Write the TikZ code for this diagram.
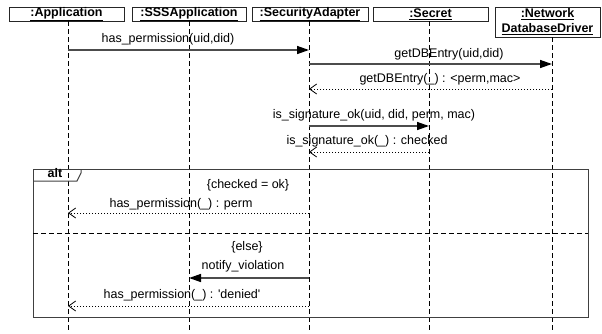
\documentclass[tikz,border=0pt]{standalone}
\usepackage{fontspec}
\setmainfont{Liberation Sans}
\usetikzlibrary{arrows.meta,positioning}

\tikzset{
	obj/.style={draw=black!85, line width=0.9pt, minimum height=14pt, inner sep=0pt, align=center, font=\bfseries\fontsize{12.5}{15}\selectfont},
	life/.style={line width=0.8pt, dash pattern=on 5pt off 3pt},
	msg/.style={draw=black!70, line width=1.4pt, -{Triangle[length=12pt,width=8pt,color=black]}},
	ret/.style={line width=0.8pt, dash pattern=on 1.5pt off 1.5pt, -{Straight Barb[length=7pt,width=10pt,color=black]}},
	lbl/.style={anchor=base, inner sep=0pt, font=\fontsize{12.5}{15}\selectfont},
}

\begin{document}
\begin{tikzpicture}[x=1pt,y=-1pt]
	\useasboundingbox (0,0) rectangle (602,333);
	% objects
	\node[obj, minimum width=115pt] (app) at (66.5,14) {\underline{:Application}};
	\node[obj, minimum width=114pt] (sss) at (189,14) {\underline{:SSSApplication}};
	\node[obj, minimum width=116pt] (sa) at (310,14) {\underline{:SecurityAdapter}};
	\node[obj, minimum width=115pt] (sec) at (430.5,14) {\underline{:Secret}};
	\node[obj, minimum width=105pt, minimum height=30pt] (ndd) at (547.5,22) {\underline{:Network}\\\underline{DatabaseDriver}};
	% lifelines
	\coordinate (append) at (68,333);
	\coordinate (sssend) at (189,333);
	\coordinate (saend) at (309,333);
	\coordinate (secend) at (429,333);
	\coordinate (nddend) at (552,333);
	\draw[life] (app.south -| append) -- (append);
	\draw[life] (sss.south -| sssend) -- (sssend);
	\draw[life] (sa.south -| saend) -- (saend);
	\draw[life] (sec.south -| secend) -- (secend);
	\draw[life] (ndd.south -| nddend) -- (nddend);
	% alt frame
	\draw[draw=black!75, line width=1pt] (33,169) rectangle (588,317);
	\draw[draw=black!75, line width=1pt] (33,181) -- (77,181) -- (81,173) -- (81,169);
	\node[lbl, font=\bfseries\fontsize{12.5}{15}\selectfont] (alt) at (55,177) {alt};
	\draw[line width=0.8pt, dash pattern=on 5pt off 3pt] (33,233) -- (588,233);
	\node[lbl] (g1) at (248,188) {\{checked = ok\}};
	\node[lbl] (g2) at (247,250) {\{else\}};
	% messages
	\coordinate (m1a) at (68,50);
	\coordinate (m1b) at (309,50);
	\draw[msg] (m1a) -- (m1b);
	\node[lbl] (t1) at (168,42) {has\_permission(uid,did)};
	\coordinate (m2a) at (309,64);
	\coordinate (m2b) at (552,64);
	\draw[msg] (m2a) -- (m2b);
	\node[lbl] (t2) at (449,57) {getDBEntry(uid,did)};
	\coordinate (m3a) at (552,89);
	\coordinate (m3b) at (309,89);
	\draw[ret] (m3a) -- (m3b);
	\node[lbl] (t3) at (440,82) {getDBEntry(\_) : <perm,mac>};
	\coordinate (m4a) at (309,126);
	\coordinate (m4b) at (429,126);
	\draw[msg] (m4a) -- (m4b);
	\node[lbl] (t4) at (374,118) {is\_signature\_ok(uid, did, perm, mac)};
	\coordinate (m5a) at (429,152);
	\coordinate (m5b) at (309,152);
	\draw[ret] (m5a) -- (m5b);
	\node[lbl] (t5) at (367,144) {is\_signature\_ok(\_) : checked};
	\coordinate (m6a) at (309,213);
	\coordinate (m6b) at (68,213);
	\draw[ret] (m6a) -- (m6b);
	\node[lbl] (t6) at (181,207) {has\_permission(\_) : perm};
	\coordinate (m7a) at (309,278);
	\coordinate (m7b) at (189,278);
	\draw[msg] (m7a) -- (m7b);
	\node[lbl] (t7) at (243,269) {notify\_violation};
	\coordinate (m8a) at (309,306);
	\coordinate (m8b) at (68,306);
	\draw[ret] (m8a) -- (m8b);
	\node[lbl] (t8) at (182,298) {has\_permission(\_) : \textquotesingle denied\textquotesingle};
\end{tikzpicture}
\end{document}
